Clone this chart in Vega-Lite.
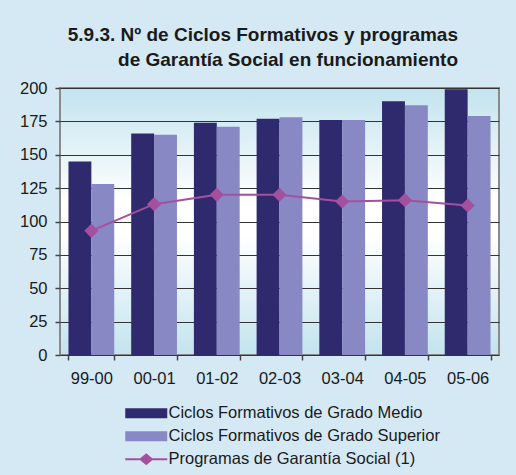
{
  "$schema": "https://vega.github.io/schema/vega-lite/v6.json",
  "width": 439,
  "height": 267,
  "autosize": "none",
  "padding": {"left": 60, "top": 88, "right": 17, "bottom": 120},
  "background": "#D5E9F5",
  "config": {
    "font": "Liberation Sans",
    "view": {
      "stroke": "#8a8a8a",
      "strokeWidth": 2,
      "fill": {"gradient": "linear", "x1": 0, "y1": 0, "x2": 0, "y2": 1,
        "stops": [
          {"offset": 0, "color": "#C2E3EE"},
          {"offset": 0.42, "color": "#FFFFFF"},
          {"offset": 0.55, "color": "#FFFFFF"},
          {"offset": 1, "color": "#C2E3EE"}
        ]}
    }
  },
  "title": {
    "text": ["5.9.3. Nº de Ciclos Formativos y programas", "de Garantía Social en funcionamiento"],
    "anchor": "end",
    "frame": "group",
    "align": "right",
    "dx": -41,
    "offset": 10,
    "fontSize": 19,
    "fontWeight": "bold",
    "lineHeight": 25,
    "color": "#1a1a1a"
  },
  "data": {
    "values": [
      {"year": "99-00", "series": "Ciclos Formativos de Grado Medio", "value": 145},
      {"year": "99-00", "series": "Ciclos Formativos de Grado Superior", "value": 128},
      {"year": "99-00", "series": "Programas de Garantía Social (1)", "value": 93},
      {"year": "00-01", "series": "Ciclos Formativos de Grado Medio", "value": 166},
      {"year": "00-01", "series": "Ciclos Formativos de Grado Superior", "value": 165},
      {"year": "00-01", "series": "Programas de Garantía Social (1)", "value": 113},
      {"year": "01-02", "series": "Ciclos Formativos de Grado Medio", "value": 174},
      {"year": "01-02", "series": "Ciclos Formativos de Grado Superior", "value": 171},
      {"year": "01-02", "series": "Programas de Garantía Social (1)", "value": 120},
      {"year": "02-03", "series": "Ciclos Formativos de Grado Medio", "value": 177},
      {"year": "02-03", "series": "Ciclos Formativos de Grado Superior", "value": 178},
      {"year": "02-03", "series": "Programas de Garantía Social (1)", "value": 120},
      {"year": "03-04", "series": "Ciclos Formativos de Grado Medio", "value": 176},
      {"year": "03-04", "series": "Ciclos Formativos de Grado Superior", "value": 176},
      {"year": "03-04", "series": "Programas de Garantía Social (1)", "value": 115},
      {"year": "04-05", "series": "Ciclos Formativos de Grado Medio", "value": 190},
      {"year": "04-05", "series": "Ciclos Formativos de Grado Superior", "value": 187},
      {"year": "04-05", "series": "Programas de Garantía Social (1)", "value": 116},
      {"year": "05-06", "series": "Ciclos Formativos de Grado Medio", "value": 199},
      {"year": "05-06", "series": "Ciclos Formativos de Grado Superior", "value": 179},
      {"year": "05-06", "series": "Programas de Garantía Social (1)", "value": 112}
    ]
  },
  "encoding": {
    "x": {
      "field": "year", "type": "nominal", "sort": null, "title": null,
      "scale": {"paddingInner": 0.27, "paddingOuter": 0.135},
      "axis": {
        "labelAngle": 0, "labelFontSize": 16.5, "labelColor": "#1a1a1a",
        "tickBand": "extent", "tickSize": 5, "tickColor": "#444", "tickWidth": 1.5,
        "labelPadding": 10, "domain": false
      }
    },
    "y": {
      "field": "value", "type": "quantitative", "title": null,
      "scale": {"domain": [0, 200], "nice": false},
      "axis": {
        "values": [0, 25, 50, 75, 100, 125, 150, 175, 200],
        "labelFontSize": 16.5, "labelColor": "#1a1a1a",
        "tickSize": 5, "tickColor": "#444", "tickWidth": 1.5, "labelPadding": 8,
        "grid": true, "gridColor": "#333333", "gridWidth": 1, "domain": false
      }
    }
  },
  "layer": [
    {
      "transform": [{"filter": "datum.series !== 'Programas de Garantía Social (1)'"}],
      "mark": {"type": "bar"},
      "encoding": {
        "xOffset": {"field": "series", "type": "nominal", "scale": {"paddingInner": 0, "paddingOuter": 0}},
        "color": {
          "field": "series", "type": "nominal",
          "scale": {
            "domain": ["Ciclos Formativos de Grado Medio", "Ciclos Formativos de Grado Superior", "Programas de Garantía Social (1)"],
            "range": ["#2F2A6E", "#8888C4", "#A5509F"]
          },
          "legend": {
            "title": null,
            "orient": "none",
            "legendX": 62,
            "legendY": 317,
            "direction": "vertical",
            "padding": 0,
            "labelFontSize": 16.5,
            "labelColor": "#1a1a1a",
            "labelOffset": 30,
            "rowPadding": 6,
            "symbolSize": 100,
            "symbolStrokeWidth": 0,
            "labelLimit": 400,
            "encode": {
              "symbols": {
                "update": {
                  "shape": {"signal": "datum.value === 'Programas de Garantía Social (1)' ? 'M-1,-0.2H2L3.2,-1.2L4.4,-0.2H7.4V0.2H4.4L3.2,1.2L2,0.2H-1Z' : 'M-1,-1H7.4V1H-1Z'"}
                }
              }
            }
          }
        }
      }
    },
    {
      "transform": [{"filter": "datum.series === 'Programas de Garantía Social (1)'"}],
      "mark": {"type": "line", "color": "#A5509F", "strokeWidth": 2},
      "encoding": {}
    },
    {
      "transform": [{"filter": "datum.series === 'Programas de Garantía Social (1)'"}],
      "mark": {"type": "point", "shape": "diamond", "filled": true, "size": 200, "color": "#A5509F", "opacity": 1},
      "encoding": {}
    }
  ]
}
